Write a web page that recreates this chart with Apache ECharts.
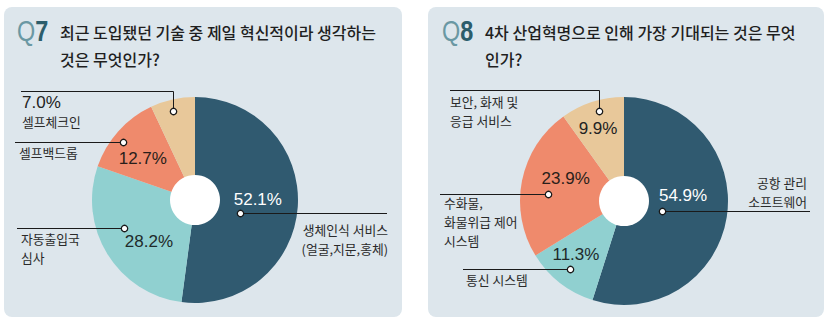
<!DOCTYPE html>
<html><head><meta charset="utf-8">
<script src="https://cdn.jsdelivr.net/npm/echarts@6/dist/echarts.min.js"></script>
<style>html,body{margin:0;background:#fff}#c{width:827px;height:324px}</style>
</head><body><div id="c"></div>
<script>
// ---- data ----
const q7Title = '최근 도입됐던 기술 중 제일 혁신적이라 생각하는\n것은 무엇인가?';
const q7Categories = ['생체인식 서비스\n(얼굴,지문,홍체)', '자동출입국\n심사', '셀프백드롭', '셀프체크인'];
const q7Values = [52.1, 28.2, 12.7, 7.0];
const q8Title = '4차 산업혁명으로 인해 가장 기대되는 것은 무엇\n인가?';
const q8Categories = ['공항 관리\n소프트웨어', '통신 시스템', '수화물,\n화물위급 제어\n시스템', '보안, 화재 및\n응급 서비스'];
const q8Values = [54.9, 11.3, 23.9, 9.9];

// ---- styles / layout ----
const sliceColors = ['#305a70', '#90d0d0', '#ef8a6c', '#e8c89a'];
const pctColors = ['#ffffff', '#1e2a2a', '#2a1e1a', '#222222'];
const KR = '"Noto Sans CJK KR", "Noto Sans", sans-serif';
const NUM = '"Liberation Sans", Arial, sans-serif';

const q7Layout = {
  center: [195, 200], r: 103, hole: 25,
  items: [
    { dot: [0.565, 0.45], pct: [0.475, 0.61], lead: [['h', 387]], text: { x: 388, y: 238.5, align: 'right', lh: 19 } },
    { dot: [0.6, 0.74], pct: [0.4, 0.6], lead: [['h', 17]], text: { x: 21, y: 247.5, align: 'left', lh: 19 } },
    { dot: [0.435, 0.9], pct: [0.43, 0.65], lead: [['h', 15]], text: { x: 19, y: 152, align: 'left', lh: 19 } },
    { dot: [0.44, 0.89], pctAt: [22, 102, 'left'], lead: [['v', 91], ['h', 21]], text: { x: 22, y: 121, align: 'left', lh: 19 } }
  ]
};
const q8Layout = {
  center: [624, 201], r: 104, hole: 25,
  items: [
    { dot: [0.53, 0.38], pct: [0.43, 0.57], lead: [['h', 810]], text: { x: 807, y: 192, align: 'right', lh: 19 } },
    { dot: [0.51, 0.83], pct: [0.6, 0.69], lead: [['h', 463]], text: { x: 466, y: 279, align: 'left', lh: 19 } },
    { dot: [0.43, 0.73], pct: [0.61, 0.6], lead: [['h', 440]], text: { x: 444, y: 221.5, align: 'left', lh: 19 } },
    { dot: [0.56, 0.9], pct: [0.45, 0.745], lead: [['v', 90], ['h', 450]], text: { x: 450, y: 110.5, align: 'left', lh: 19 } }
  ]
};

function annotations(values, cats, L) {
  const total = values.reduce((a, b) => a + b, 0);
  let acc = 0;
  const g = [];
  g.push({ type: 'circle', z: 100, silent: true, shape: { cx: L.center[0], cy: L.center[1], r: L.hole }, style: { fill: '#ffffff' } });
  values.forEach((v, i) => {
    const a0 = acc / total * 360, a1 = (acc + v) / total * 360; acc += v;
    const it = L.items[i];
    const pt = (f, rf) => {
      const th = (a0 + (a1 - a0) * f) * Math.PI / 180, rr = rf * L.r;
      return [L.center[0] + rr * Math.sin(th), L.center[1] - rr * Math.cos(th)];
    };
    const d = pt(it.dot[0], it.dot[1]);
    d[0] = Math.round(d[0]) + 0.5; d[1] = Math.round(d[1]) + 0.5;
    const pts = [d.slice()];
    let cur = d.slice();
    it.lead.forEach(s => { if (s[0] === 'h') cur = [s[1], cur[1]]; else cur = [cur[0], s[1] + 0.5]; pts.push(cur.slice()); });
    g.push({ type: 'polyline', z: 101, silent: true, shape: { points: pts }, style: { stroke: '#1a1a1a', lineWidth: 1, fill: null } });
    g.push({ type: 'circle', z: 102, silent: true, shape: { cx: d[0], cy: d[1], r: 3.2 }, style: { fill: '#ffffff', stroke: '#1a1a1a', lineWidth: 1.3 } });
    let px, py, pal = 'center';
    if (it.pctAt) { px = it.pctAt[0]; py = it.pctAt[1]; pal = it.pctAt[2]; }
    else { const p = pt(it.pct[0], it.pct[1]); px = p[0]; py = p[1]; }
    g.push({ type: 'text', z: 103, silent: true, x: px, y: py, style: { text: v.toFixed(1) + '%', fill: it.pctAt ? '#222' : pctColors[i], font: '17px ' + NUM, align: pal, verticalAlign: 'middle' } });
    g.push({ type: 'text', z: 103, silent: true, x: it.text.x, y: it.text.y, style: { text: cats[i], fill: '#2a2a2a', font: '12.8px ' + KR, align: it.text.align, verticalAlign: 'middle', lineHeight: it.text.lh } });
  });
  return g;
}

function pie(values, cats, L) {
  return {
    type: 'pie', center: L.center, radius: [0, L.r], startAngle: 90, clockwise: true,
    silent: true, animation: false, label: { show: false }, labelLine: { show: false },
    itemStyle: { borderWidth: 0 },
    data: values.map((v, i) => ({ value: v, name: cats[i].replace(/\n/g, ' '), itemStyle: { color: sliceColors[i] } }))
  };
}

function qBadge(x, num) {
  return {
    type: 'text', z: 103, silent: true, x: x, y: 31, scaleX: 0.78,
    style: {
      text: '{q|Q}{n|' + num + '}', verticalAlign: 'middle', align: 'left',
      rich: {
        q: { fill: '#6a98a3', font: '30px ' + NUM },
        n: { fill: '#2c5d6b', font: 'bold 30px ' + NUM }
      }
    }
  };
}

const chart = echarts.init(document.getElementById('c'), null, { renderer: 'svg' });
chart.setOption({
  animation: false,
  title: [
    { text: q7Title, left: 55, top: 13, textStyle: { fontFamily: KR, fontSize: 16, fontWeight: 500, color: '#1f1f1f', lineHeight: 27 } },
    { text: q8Title, left: 480, top: 13, textStyle: { fontFamily: KR, fontSize: 16, fontWeight: 500, color: '#1f1f1f', lineHeight: 27 } }
  ],
  graphic: [
    { type: 'rect', z: -1, silent: true, shape: { x: 4, y: 7, width: 398, height: 310, r: 8 }, style: { fill: '#dde6ec' } },
    { type: 'rect', z: -1, silent: true, shape: { x: 428, y: 7, width: 396, height: 310, r: 8 }, style: { fill: '#dde6ec' } },
    qBadge(17, '7'),
    qBadge(442, '8'),
    ...annotations(q7Values, q7Categories, q7Layout),
    ...annotations(q8Values, q8Categories, q8Layout)
  ],
  series: [pie(q7Values, q7Categories, q7Layout), pie(q8Values, q8Categories, q8Layout)]
});
</script></body></html>
